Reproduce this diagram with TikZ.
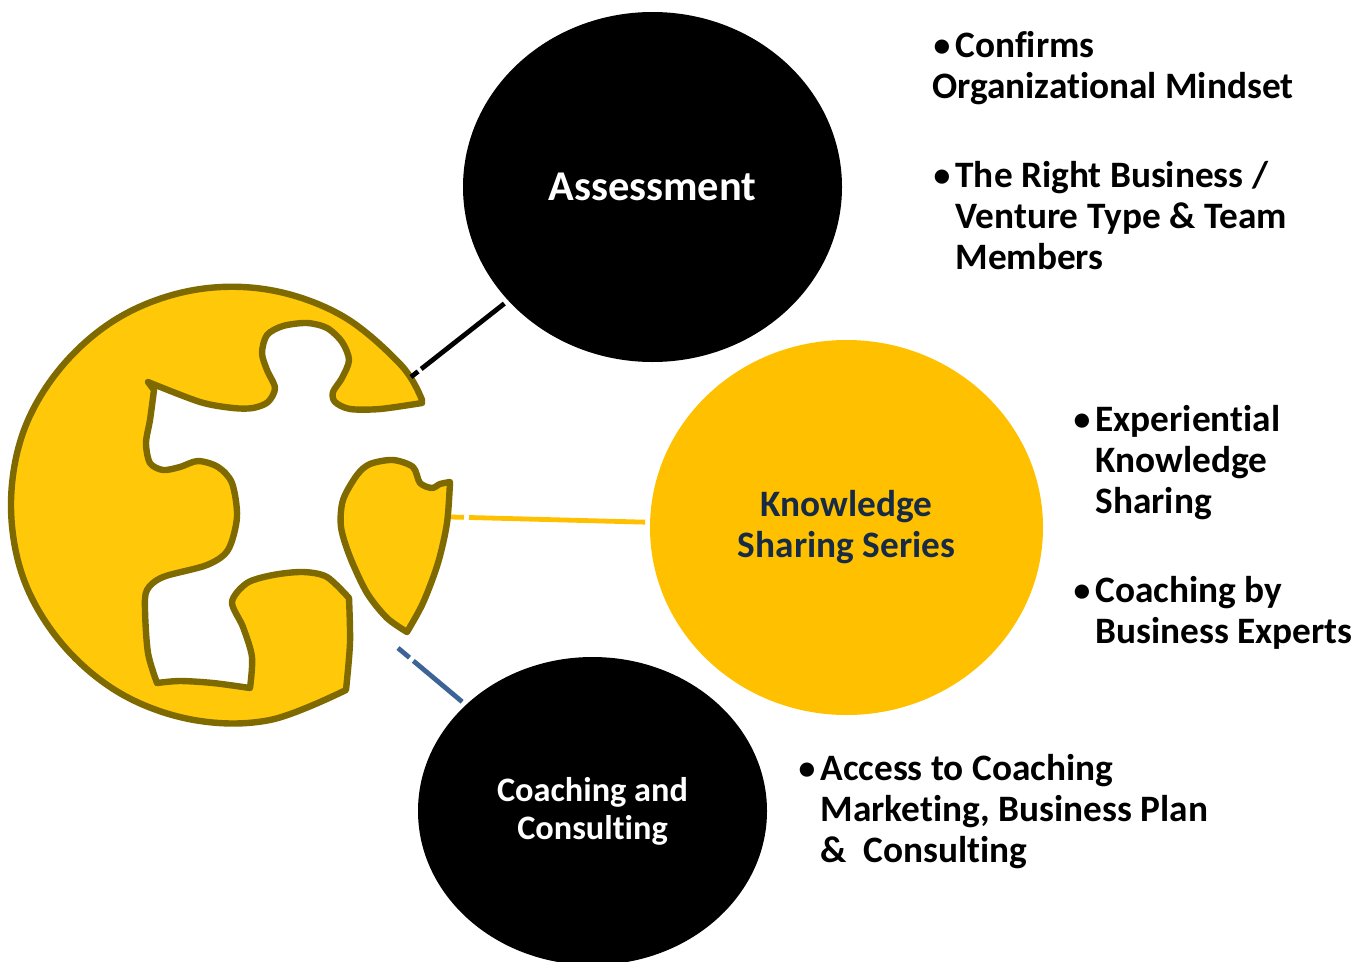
\documentclass[tikz,border=0pt]{standalone}
\usepackage{fontspec}
\setmainfont[Ligatures=NoCommon]{Carlito}
\usetikzlibrary{shapes.geometric}
\definecolor{gold}{HTML}{FFC000}
\definecolor{blobfill}{HTML}{FFC90A}
\definecolor{blobline}{HTML}{7F6A00}
\definecolor{navytext}{HTML}{172B45}
\definecolor{linkblue}{HTML}{3D6496}
\newcommand{\bul}{\makebox[23.5pt][l]{\hspace*{1.5pt}\raisebox{1pt}{\scalebox{0.9}{•}}}}
\newcommand{\ind}{\hspace*{23.5pt}}
\tikzset{
  x=1pt,y=-1pt,
  bigcircle/.style={ellipse,inner sep=0pt,outer sep=0pt,align=center,font=\bfseries},
  blackcircle/.style={bigcircle,fill=black,text=white},
  goldcircle/.style={bigcircle,fill=gold,text=navytext},
  notes/.style={inner sep=0pt,outer sep=0pt,anchor=base west,align=left,text=black,font=\fontsize{37.3}{41}\selectfont\bfseries},
  blob/.style={fill=blobfill,draw=blobline,line width=6.4pt,line join=round},
  link/.style={line width=4.8pt,shorten >=5pt}
}
\begin{document}
\begin{tikzpicture}
\useasboundingbox (0,0) rectangle (1370,961);
% puzzle blob
\draw[blob] plot[smooth,tension=0.6] coordinates {(422,400)(401,365)(342.5,316)(270,290)(194,290)(121.5,316)(63,365)(24,430)(11,505)(24,580)(63,645)(121.5,694)(194,720)(270,720)(346,690)}
 -- plot[smooth,tension=0.5] coordinates {(346,690)(350,643)(349,598)}
 -- plot[smooth,tension=0.5] coordinates {(349,598)(327,577)(303,572)(273,575)(247,583)(232,602)(243,627)(252,657)(250,688)}
 -- plot[smooth,tension=0.5] coordinates {(250,688)(213,683)(180,681)(157,683)}
 -- plot[smooth,tension=0.5] coordinates {(157,683)(148,653)(145,610)(147,590)(163,577)(207,565)(228,550)(237,517)(232,483)(218,467)(198,461)(180,467)(163,470)(150,463)(146,443)(150,420)(154,390)}
 -- (148,382)
 -- plot[smooth,tension=0.5] coordinates {(148,382)(200,402)(233,408)(253,408)(268,402)(275,388)(267,370)(262,353)(267,335)(283,326)(307,323)(327,328)(342,342)(349,360)(342,378)(333,392)(335,402)(350,409)(380,409)(422,403)}
 -- cycle;
\draw[blob] plot[smooth,tension=0.5] coordinates {(450,482)(440,484)(432,488)(420,483)(413,467)(393,460)(370,464)(357,475)(343,500)(341,527)(350,557)(367,593)(387,618)(407,632)}
 -- plot[smooth,tension=0.5] coordinates {(407,632)(423,603)(438,563)(447,523)(450,482)} -- cycle;
% circles
\node[blackcircle,minimum width=379pt,minimum height=350pt,font=\fontsize{42.4}{46}\selectfont\bfseries] (assess) at (652.5,187) {Assessment};
\node[goldcircle,minimum width=393pt,minimum height=375pt,font=\fontsize{37.3}{41}\selectfont\bfseries] (know) at (846.5,527.5) {Knowledge\\Sharing Series};
\node[blackcircle,minimum width=349pt,minimum height=308pt,font=\fontsize{34.3}{38}\selectfont\bfseries] (coach) at (592.5,811) {Coaching and\\Consulting};
% connectors
\coordinate (ablob) at (411,377);
\coordinate (kblob) at (451,517);
\coordinate (cblob) at (398,648);
\draw[link,black,dash pattern=on 9pt off 4pt on 400pt] (ablob) -- (assess);
\draw[link,gold,dash pattern=on 13pt off 5pt on 400pt] (kblob) -- (know);
\draw[link,linkblue,dash pattern=on 15pt off 5pt on 400pt] (cblob) -- (coach);
% notes
\node[notes] (n1) at (932,98.5) {\bul Confirms\\Organizational Mindset};
\node[notes] (n2) at (932,269.5) {\bul The Right Business /\\\ind Venture Type \& Team\\\ind Members};
\node[notes] (n3) at (1072,513.5) {\bul Experiential\\\ind Knowledge\\\ind Sharing};
\node[notes] (n4) at (1072,643.5) {\bul Coaching by\\\ind Business Experts};
\node[notes] (n5) at (797,862.5) {\bul Access to Coaching\\\ind Marketing, Business Plan\\\ind \&\ \ Consulting};
\end{tikzpicture}
\end{document}
